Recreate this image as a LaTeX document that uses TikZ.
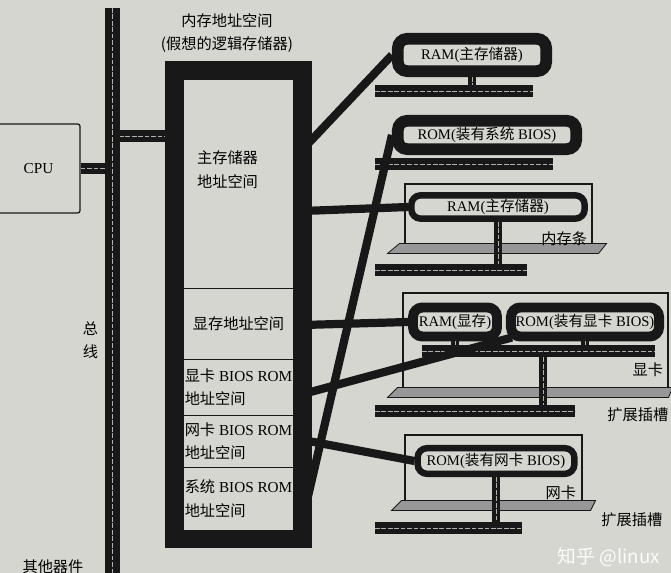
\documentclass[tikz,border=0pt]{standalone}
\usepackage{fontspec}
\setmainfont{Liberation Serif}
\newfontfamily\cjk{Noto Sans CJK SC}
\usepackage{tikz}
\usetikzlibrary{positioning,fit,calc}
\definecolor{paper}{RGB}{214,214,209}
\definecolor{ink}{RGB}{24,24,24}
\newcommand\zhs[1]{{\cjk #1}}
\newcommand\bodysize{\fontsize{13}{20}\selectfont}
\newcommand\chipsize{\fontsize{12.5}{15}\selectfont}

\begin{document}
\begin{tikzpicture}[
      x=0.03cm, y=-0.03cm,
      font=\bodysize,
      zh/.style={font=\cjk\bodysize},
      region/.style={draw=ink, line width=0.8pt, minimum width=3.3cm,
                     inner sep=1pt, outer sep=0pt},
      memframe/.style={draw=ink, line width=0.54cm, inner sep=0.27cm},
      chip/.style={draw=ink, fill=paper, line width=6.5pt, rounded corners=8pt,
                   inner xsep=4pt, inner ysep=3pt, font=\chipsize},
      card/.style={draw=ink, line width=0.9pt},
      slot/.style={draw=ink, line width=0.7pt, fill=ink!45},
      busbar/.style={draw=ink, line width=10pt,
                     postaction={draw=paper!80!ink, line width=0.7pt,
                                 dash pattern=on 4pt off 1.5pt}},
      stem/.style={busbar, line width=7pt},
      link/.style={draw=ink, line width=7pt},
      lbl/.style={font=\cjk\bodysize, inner sep=1pt}
    ]
    % ---- paper ----
    \fill[paper] (0,0) rectangle (671,573);
    \useasboundingbox (0,0) rectangle (671,573);

    % ---- CPU and system bus ----
    \node[draw=ink, line width=1.1pt, rounded corners=2pt,
          minimum width=2.49cm, minimum height=2.67cm] (cpu) at (38.5,168.5) {CPU};
    \coordinate (bustop) at (112.5,8);
    \coordinate (busbot) at (112.5,580);
    \coordinate (memport) at (170,136);
    \draw[busbar] (cpu.east) -- (cpu.east -| bustop);
    \draw[busbar] (memport -| bustop) -- (memport);
    \draw[busbar, line width=12.5pt] (bustop) -- (busbot);
    \node[zh, align=center] (busname) at (90.5,340) {总\\线};
    \node[zh] (others) at (53,567) {其他器件};

    % ---- memory address space ----
    \node[zh, align=center] (title) at (227,33) {内存地址空间\\(假想的逻辑存储器)};
    \node[region, minimum height=6.27cm] (mainsp) at (238.5,183.5) {};
    \node[region, zh, minimum height=2.13cm, below=0pt of mainsp] (vramsp) {显存地址空间};
    \node[region, align=left, minimum height=1.68cm, below=0pt of vramsp] (vbiossp)
      {\zhs{显卡} BIOS ROM\\\zhs{地址空间}};
    \node[region, align=left, minimum height=1.56cm, below=0pt of vbiossp] (nbiossp)
      {\zhs{网卡} BIOS ROM\\\zhs{地址空间}};
    \node[region, align=left, minimum height=1.89cm, below=0pt of nbiossp] (sbiossp)
      {\zhs{系统} BIOS ROM\\\zhs{地址空间}};
    \node[memframe, fit=(mainsp)(sbiossp)] (mem) {};
    \node[zh, align=center] (maintxt) at ($(mainsp.center)+(-11,-14)$) {主存储器\\地址空间};

    % ---- cards and slots ----
    \node[card, minimum width=5.61cm, minimum height=1.89cm] (stick) at (498.5,215.5) {};
    \node[card, minimum width=7.95cm, minimum height=2.91cm] (vcard) at (535.5,341.5) {};
    \node[card, minimum width=5.31cm, minimum height=2.04cm] (ncard) at (493.5,469) {};
    \draw[slot] ($(stick.south west)+(-5,-4)$) -- ($(stick.south east)+(14,-4)$)
      -- ($(stick.south east)+(6,6)$) -- ($(stick.south west)+(-17,6)$) -- cycle;
    \draw[slot] ($(vcard.south west)+(-5,-3)$) -- ($(vcard.south east)+(4,-3)$)
      -- ($(vcard.south east)+(0,7)$) -- ($(vcard.south west)+(-15,7)$) -- cycle;
    \draw[slot] ($(ncard.south west)+(-3,-3)$) -- ($(ncard.south east)+(13,-3)$)
      -- ($(ncard.south east)+(8,7)$) -- ($(ncard.south west)+(-13,7)$) -- cycle;

    % ---- chips ----
    \node[chip, line width=10pt, minimum width=4.45cm, minimum height=0.97cm] (ram1)
      at (472,55) {RAM(\zhs{主存储器})};
    \node[chip, line width=10pt, minimum width=5.35cm, minimum height=0.85cm] (rom1)
      at (487,135) {ROM(\zhs{装有系统} BIOS)};
    \node[chip, line width=5.5pt, minimum width=5.2cm, minimum height=0.7cm] (ram2)
      at (498,207) {RAM(\zhs{主存储器})};
    \node[chip, line width=8.5pt, minimum width=2.52cm, minimum height=0.87cm] (vram)
      at (455,322) {RAM(\zhs{显存})};
    \node[chip, line width=8.5pt, minimum width=4.32cm, minimum height=0.87cm] (vrom)
      at (585,322) {ROM(\zhs{装有显卡} BIOS)};
    \node[chip, line width=5.5pt, minimum width=4.7cm, minimum height=0.77cm] (nrom)
      at (496,461) {ROM(\zhs{装有网卡} BIOS)};

    % ---- slot buses and stems ----
    \coordinate (bar1) at (375,91);
    \coordinate (bar2) at (375,164);
    \coordinate (bar3) at (375,270);
    \coordinate (vbus) at (422,351);
    \coordinate (vdrop) at (543,351);
    \coordinate (bar4) at (375,411);
    \coordinate (bar5) at (375,528);
    \draw[stem] (ram1.south) -- (ram1.south |- bar1);
    \draw[stem] (ram2.south) -- (ram2.south |- bar3);
    \draw[stem] (vram.south) -- (vram.south |- vbus);
    \draw[stem] (vrom.south) -- (vrom.south |- vbus);
    \draw[stem] (vdrop) -- (vdrop |- bar4);
    \draw[stem] (nrom.south) -- (nrom.south |- bar5);
    \draw[busbar] (bar1) -- ++(158,0);
    \draw[busbar] (bar2) -- ++(178,0);
    \draw[busbar] (bar3) -- ++(152,0);
    \draw[busbar] (vbus) -- ++(233,0);
    \draw[busbar] (bar4) -- ++(200,0);
    \draw[busbar] (bar5) -- ++(147,0);

    % ---- links from address space to chips ----
    \coordinate (out1) at (304,148);
    \coordinate (out2) at (303,211);
    \coordinate (out3) at (303,325);
    \coordinate (out4) at (303,394);
    \coordinate (out5) at (303,440);
    \coordinate (out6) at (306,505);
    \draw[link] (out1) -- (ram1.west);
    \draw[link] (out2) -- (ram2.west);
    \draw[link] (out3) -- (vram.west);
    \draw[link] (out4) -- ($(vrom.south west)+(6,-4)$);
    \draw[link] (out5) -- (nrom.west);
    \draw[link] (out6) -- (rom1.west);

    % ---- labels ----
    \node[lbl, anchor=base east] (sticklbl) at ($(stick.south east)+(-4,-3)$) {内存条};
    \node[lbl, anchor=base east] (vcardlbl) at ($(vcard.south east)+(-4,-15)$) {显卡};
    \node[lbl, anchor=base east] (ncardlbl) at ($(ncard.south east)+(-5,-5)$) {网卡};
    \node[lbl, anchor=base west] (slotlbl1) at (606,421) {扩展插槽};
    \node[lbl, anchor=base west] (slotlbl2) at (600,525) {扩展插槽};
    \node[font=\cjk\fontsize{16}{18}\selectfont, text=white!90!paper] (mark)
      at (609,557) {知乎 @linux};
  \end{tikzpicture}
\end{document}
